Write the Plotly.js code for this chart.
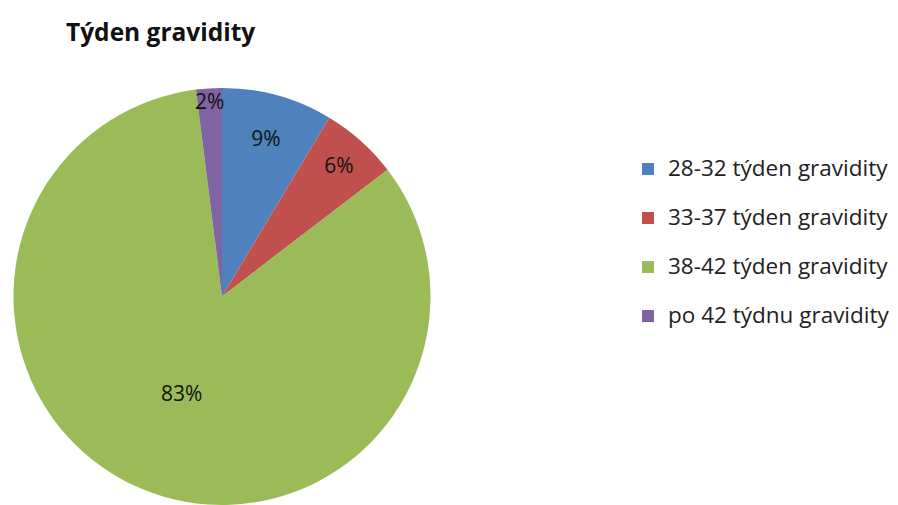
<!DOCTYPE html>
<html>
<head>
<meta charset="utf-8">
<script src="https://cdn.plot.ly/plotly-3.0.1.min.js"></script>
<style>html,body{margin:0;padding:0;background:#fff;}#chart{width:898px;height:505px;}</style>
</head>
<body>
<div id="chart"></div>
<script>
const categories = ["28-32 týden gravidity", "33-37 týden gravidity", "38-42 týden gravidity", "po 42 týdnu gravidity"];
const values = [8.6, 6.0, 83.4, 2.0];
const colors = ["#4F81BD", "#C0504D", "#9BBB59", "#8064A2"];
const titleText = "Týden gravidity";

const FONT = "'Open Sans', Calibri, Carlito, Lato, sans-serif";

const trace = {
  type: "pie",
  labels: categories.map(c => "<span style='font-size:22.5px'>" + c + "</span><br> "),
  values: values,
  marker: {colors: colors},
  sort: false,
  direction: "clockwise",
  rotation: 0,
  textposition: "inside",
  insidetextorientation: "horizontal",
  texttemplate: "%{percent:.0%}",
  textfont: {family: FONT, size: 21, color: "#111"},
  hoverinfo: "label+percent",
  domain: {x: [0.015, 0.4794], y: [0, 0.826]}
};

const layout = {
  width: 898, height: 505,
  margin: {l: 0, r: 0, t: 0, b: 0},
  paper_bgcolor: "#fff",
  title: {
    text: "<b>" + titleText + "</b>",
    x: 66/898, xanchor: "left", xref: "paper",
    y: 1 - 32/505, yanchor: "middle", yref: "paper",
    font: {family: FONT, size: 24.5, color: "#111"}
  },
  showlegend: true,
  legend: {
    x: 628/898, xanchor: "left",
    y: 1 - 151/505, yanchor: "top",
    valign: "top",
    font: {family: FONT, size: 17.7, color: "#222"},
    bgcolor: "rgba(0,0,0,0)"
  },
  uniformtext: {minsize: 21, mode: "show"}
};

Plotly.newPlot("chart", [trace], layout, {displayModeBar: false, staticPlot: true});
</script>
</body>
</html>
